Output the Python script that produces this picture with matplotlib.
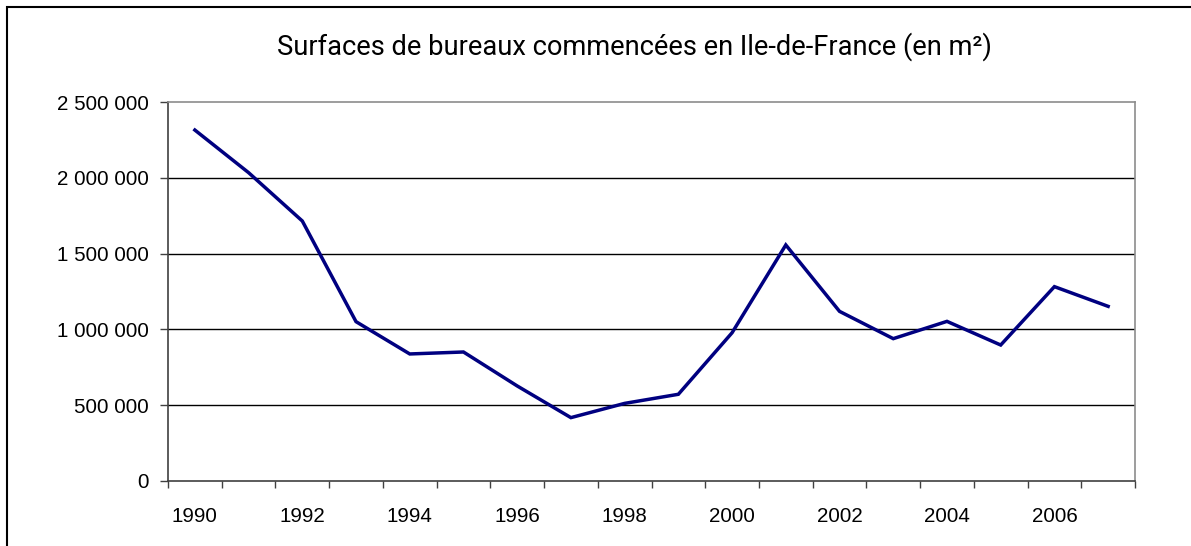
"""
Surfaces de bureaux commencées en Ile-de-France.
"""

import matplotlib
matplotlib.use("Agg")
import matplotlib.pyplot as plt
from matplotlib.patches import Rectangle


years = list(range(1990, 2008))

surfaces = [
    2315000, 2034000, 1715000, 1051000, 838000, 851000,
    627000, 418000, 512000, 572000, 978000, 1557000,
    1119000, 939000, 1053000, 897000, 1282000, 1152000,
]

y_ticks = [0, 500000, 1000000, 1500000, 2000000, 2500000]

title = "Surfaces de bureaux commencées en Ile-de-France (en m²)"


def fmt(v):
    return f"{v:,}".replace(",", " ")


plt.rcParams["font.family"] = ["Liberation Sans", "DejaVu Sans"]

fig = plt.figure(figsize=(11.91, 5.46), dpi=100)
ax = fig.add_axes([168 / 1191, 1 - 481 / 546, (1135 - 168) / 1191, (481 - 102) / 546])

x = list(range(len(years)))

ax.plot(x, surfaces, color="#000080", lw=2.5, solid_joinstyle="miter")

ax.set_xlim(-0.5, len(years) - 0.5)
ax.set_ylim(0, 2500000)

ax.set_yticks(y_ticks)
ax.set_yticklabels([fmt(v) for v in y_ticks])

# labels every other year, ticks between categories
ax.set_xticks(x[::2])
ax.set_xticklabels([str(y) for y in years[::2]])
ax.tick_params(axis="x", which="major", length=0, pad=19)
ax.set_xticks([i - 0.5 for i in range(len(years) + 1)], minor=True)
ax.tick_params(axis="x", which="minor", length=5, width=1, color="#404040")
ax.tick_params(axis="y", length=6, width=1, color="#404040", pad=8)
ax.tick_params(labelsize=14.8, labelcolor="black")

for v in y_ticks[1:-1]:
    ax.axhline(v, color="black", lw=1, zorder=1)

ax.spines["left"].set_color("#404040")
ax.spines["bottom"].set_color("#404040")
ax.spines["top"].set_color("#8c8c8c")
ax.spines["right"].set_color("#8c8c8c")
for s in ax.spines.values():
    s.set_linewidth(1.2)

fig.text(634 / 1191, 1 - 47 / 546, title, ha="center", va="center",
         fontsize=19.6, family=["Roboto", "DejaVu Sans"])

# outer chart frame (cropped on right and bottom)
fig.patches.append(Rectangle((6.5 / 1191, -0.1), 1.2, 1 - 6.5 / 546 + 0.1,
                             transform=fig.transFigure, fill=False,
                             edgecolor="black", lw=1.5))

fig.savefig("out.png", dpi=100)
